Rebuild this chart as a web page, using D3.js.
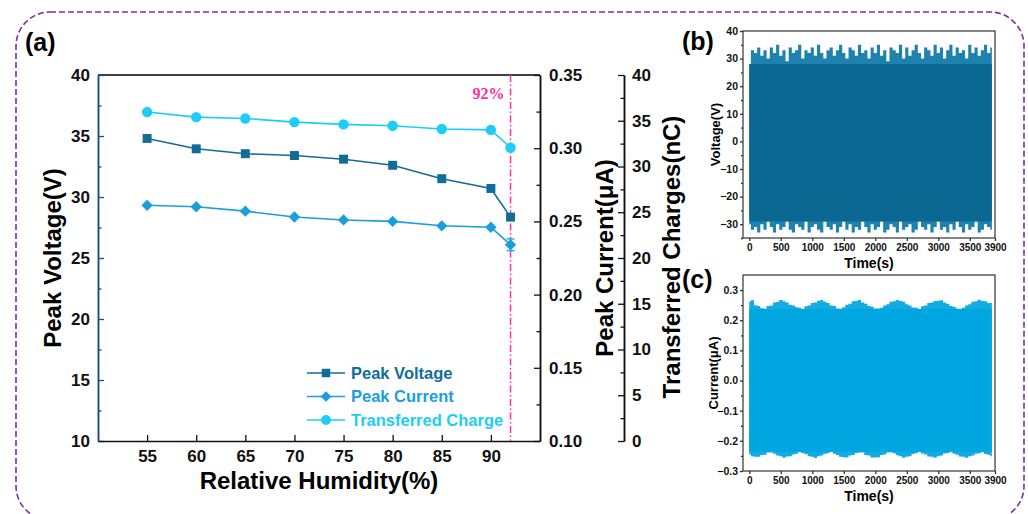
<!DOCTYPE html>
<html>
<head>
<meta charset="utf-8">
<script src="https://cdn.jsdelivr.net/npm/d3@7"></script>
<style>
  body { margin: 0; background: #fff; }
  svg { font-family: "Liberation Sans", Arial, sans-serif; font-weight: bold; }
</style>
</head>
<body>
<div id="chart"></div>
<script>
// ---- panel (a) data
var humidity = [55, 60, 65, 70, 75, 80, 85, 90, 92];
var peakVoltage = [34.8, 33.95, 33.55, 33.4, 33.1, 32.6, 31.5, 30.7, 28.35];
var peakCurrent = [0.261, 0.260, 0.257, 0.253, 0.251, 0.250, 0.247, 0.246, 0.234];
var currentErr = [0, 0, 0, 0, 0, 0, 0, 0, 0.004];
var transCharge = [35.95, 35.4, 35.25, 34.85, 34.6, 34.45, 34.1, 34.0, 32.05];
var humTicks = [55, 60, 65, 70, 75, 80, 85, 90];
var seriesNames = ["Peak Voltage", "Peak Current", "Transferred Charge"];

// ---- panel (b)/(c) envelopes, sampled every 50 s from 0 s
var sampleStep = 50;
var voltTop = [28,33,32,34,31,33,30,34,32,35,31,33,29,34,32,33,35,30,33,32,34,31,35,32,30,33,34,31,33,35,32,30,34,33,31,35,32,33,30,34,32,35,31,33,29,34,33,32,35,30,34,31,33,35,32,30,34,33,31,35,32,34,30,33,35,31,34,32,33,30,35,32,34,31,33,35,32,34];
var voltBot = [-30,-32,-31,-33,-30,-32,-29,-31,-33,-30,-32,-31,-29,-32,-33,-30,-31,-32,-29,-33,-31,-30,-32,-33,-29,-31,-32,-30,-33,-31,-29,-32,-30,-33,-31,-32,-29,-31,-33,-30,-32,-31,-29,-33,-32,-30,-31,-33,-29,-32,-31,-30,-33,-32,-29,-31,-32,-30,-33,-31,-29,-32,-31,-33,-30,-32,-29,-31,-33,-30,-32,-31,-29,-33,-32,-30,-31,-32];
var currTop = [0.262,0.266,0.250,0.247,0.240,0.238,0.247,0.249,0.259,0.261,0.267,0.263,0.259,0.251,0.249,0.243,0.241,0.237,0.246,0.249,0.257,0.259,0.265,0.267,0.261,0.257,0.249,0.247,0.239,0.238,0.243,0.251,0.255,0.263,0.264,0.267,0.259,0.255,0.247,0.245,0.239,0.239,0.241,0.249,0.253,0.261,0.263,0.267,0.264,0.261,0.253,0.249,0.242,0.241,0.237,0.246,0.249,0.257,0.259,0.264,0.265,0.266,0.259,0.255,0.247,0.245,0.239,0.237,0.241,0.249,0.253,0.261,0.263,0.268,0.264,0.263,0.257,0.257];
var currBot = [-0.245,-0.251,-0.253,-0.253,-0.247,-0.246,-0.239,-0.239,-0.243,-0.249,-0.251,-0.256,-0.252,-0.251,-0.245,-0.243,-0.237,-0.241,-0.244,-0.251,-0.253,-0.257,-0.251,-0.249,-0.243,-0.241,-0.236,-0.243,-0.247,-0.253,-0.254,-0.255,-0.249,-0.247,-0.240,-0.239,-0.239,-0.247,-0.249,-0.255,-0.255,-0.254,-0.247,-0.245,-0.239,-0.238,-0.241,-0.248,-0.251,-0.256,-0.253,-0.251,-0.244,-0.241,-0.236,-0.242,-0.245,-0.252,-0.253,-0.256,-0.251,-0.249,-0.242,-0.240,-0.236,-0.243,-0.246,-0.252,-0.253,-0.256,-0.251,-0.249,-0.243,-0.241,-0.238,-0.244,-0.246,-0.251];
var timeTicks = [0, 500, 1000, 1500, 2000, 2500, 3000, 3500, 3900];

var colV = "#106d98", colI = "#1a9fdc", colQ = "#1ccdf5";
var W = 1028, H = 514;

var svg = d3.select("#chart").append("svg").attr("width", W).attr("height", H);

// outer dashed rounded frame
svg.append("rect").attr("x", 16).attr("y", 12).attr("width", 1008).attr("height", 508)
  .attr("rx", 34).attr("fill", "none").attr("stroke", "#7a2fa8")
  .attr("stroke-width", 1.6).attr("stroke-dasharray", "6,3");

// ================= panel (a)
var x = d3.scaleLinear().domain([50, 95]).range([98, 540]);
var yV = d3.scaleLinear().domain([10, 40]).range([441, 75]);
var yI = d3.scaleLinear().domain([0.10, 0.35]).range([441, 75]);
var yQ = d3.scaleLinear().domain([0, 40]).range([441, 75]);

var g = svg.append("g");

// top border
g.append("line").attr("x1", 98).attr("x2", 540).attr("y1", 75).attr("y2", 75)
  .attr("stroke", "#000").attr("stroke-width", 1.3);

function styleAxis(sel, col, fs) {
  sel.selectAll("path").attr("stroke", col).attr("stroke-width", 1.5);
  sel.selectAll("line").attr("stroke", col).attr("stroke-width", 1.3);
  sel.selectAll("text").attr("fill", "#111").style("font-size", fs + "px")
    .style("font-family", "'Liberation Sans', Arial, sans-serif").style("font-weight", "bold");
}

// left axis (voltage)
var axL = g.append("g").attr("transform", "translate(98,0)")
  .call(d3.axisLeft(yV).tickValues(d3.range(10, 41, 5)).tickSize(-6).tickSizeOuter(0).tickPadding(8));
styleAxis(axL, "#1d4c80", 17);
var axLm = g.append("g").attr("transform", "translate(98,0)")
  .call(d3.axisLeft(yV).tickValues(d3.range(12.5, 40, 5)).tickSize(-3.5).tickFormat("").tickSizeOuter(0));
styleAxis(axLm, "#1d4c80", 17);

// bottom axis
var axB = g.append("g").attr("transform", "translate(0,441)")
  .call(d3.axisBottom(x).tickValues(humTicks).tickSize(-6).tickSizeOuter(0).tickPadding(9));
styleAxis(axB, "#111", 17);

// right axis (current)
var axR = g.append("g").attr("transform", "translate(540,0)")
  .call(d3.axisRight(yI).tickValues([0.10, 0.15, 0.20, 0.25, 0.30, 0.35]).tickFormat(d3.format(".2f"))
  .tickSize(-6).tickSizeOuter(0).tickPadding(9));
styleAxis(axR, "#111", 17);
var axRm = g.append("g").attr("transform", "translate(540,0)")
  .call(d3.axisRight(yI).tickValues([0.125, 0.175, 0.225, 0.275, 0.325]).tickSize(-3.5).tickFormat("").tickSizeOuter(0));
styleAxis(axRm, "#111", 17);

// right axis 2 (charge)
var axQ = g.append("g").attr("transform", "translate(624,0)")
  .call(d3.axisRight(yQ).tickValues(d3.range(0, 41, 5)).tickSize(-6).tickSizeOuter(0).tickPadding(8));
styleAxis(axQ, "#111", 17);
var axQm = g.append("g").attr("transform", "translate(624,0)")
  .call(d3.axisRight(yQ).tickValues(d3.range(2.5, 40, 5)).tickSize(-3.5).tickFormat("").tickSizeOuter(0));
styleAxis(axQm, "#111", 17);

// axis titles
g.append("text").attr("transform", "translate(61,258) rotate(-90)").attr("text-anchor", "middle")
  .style("font-size", "24px").text("Peak Voltage(V)");
g.append("text").attr("x", 319).attr("y", 489).attr("text-anchor", "middle")
  .style("font-size", "24px").text("Relative Humidity(%)");
g.append("text").attr("transform", "translate(613,258) rotate(-90)").attr("text-anchor", "middle")
  .style("font-size", "24px").text("Peak Current(\u03bcA)");
g.append("text").attr("transform", "translate(680,257) rotate(-90)").attr("text-anchor", "middle")
  .style("font-size", "24px").text("Transferred Charges(nC)");

// 92% marker line
g.append("line").attr("x1", x(92)).attr("x2", x(92)).attr("y1", 75).attr("y2", 441)
  .attr("stroke", "#ff3399").attr("stroke-width", 1.5).attr("stroke-dasharray", "7,2.5,1.5,2.5");
g.append("text").attr("x", x(92) - 6).attr("y", 99).attr("text-anchor", "end")
  .attr("fill", "#ff2f8e").style("font-family", "'Liberation Serif', 'Times New Roman', serif")
  .style("font-size", "16px").text("92%");

// series
var series = [
  {name: seriesNames[0], vals: peakVoltage, y: yV, col: colV, sym: d3.symbolSquare, size: 80, rot: 0},
  {name: seriesNames[1], vals: peakCurrent, y: yI, col: colI, sym: d3.symbolSquare, size: 64, rot: 45},
  {name: seriesNames[2], vals: transCharge, y: yQ, col: colQ, sym: d3.symbolCircle, size: 85, rot: 0}
];

series.forEach(function (s) {
  var line = d3.line().x((d, i) => x(humidity[i])).y(d => s.y(d));
  g.append("path").attr("d", line(s.vals)).attr("fill", "none")
    .attr("stroke", s.col).attr("stroke-width", 1.6);
  g.append("g").selectAll("path").data(s.vals).join("path")
    .attr("transform", (d, i) => "translate(" + x(humidity[i]) + "," + s.y(d) + ") rotate(" + s.rot + ")")
    .attr("d", d3.symbol().type(s.sym).size(s.size)).attr("fill", s.col);
});

// error bars for current
peakCurrent.forEach(function (d, i) {
  if (!currentErr[i]) return;
  var cx = x(humidity[i]);
  g.append("line").attr("x1", cx).attr("x2", cx)
    .attr("y1", yI(d - currentErr[i])).attr("y2", yI(d + currentErr[i])).attr("stroke", colI).attr("stroke-width", 1.3);
  [d - currentErr[i], d + currentErr[i]].forEach(function (v) {
    g.append("line").attr("x1", cx - 4).attr("x2", cx + 4).attr("y1", yI(v)).attr("y2", yI(v))
      .attr("stroke", colI).attr("stroke-width", 1.3);
  });
});

// legend
var leg = g.append("g").attr("transform", "translate(307,373)");
series.forEach(function (s, i) {
  var r = leg.append("g").attr("transform", "translate(0," + (i * 23.5) + ")");
  r.append("line").attr("x1", 0).attr("x2", 38).attr("stroke", s.col).attr("stroke-width", 1.6);
  r.append("path").attr("transform", "translate(19,0) rotate(" + s.rot + ")")
    .attr("d", d3.symbol().type(s.sym).size(s.size * 0.9)).attr("fill", s.col);
  r.append("text").attr("x", 44).attr("dy", "0.36em").attr("fill", s.col)
    .style("font-size", "16.5px").text(s.name);
});

// panel letters
svg.append("text").attr("x", 25).attr("y", 51).style("font-size", "25px").text("(a)");
svg.append("text").attr("x", 682).attr("y", 50).style("font-size", "25px").text("(b)");
svg.append("text").attr("x", 682).attr("y", 288).style("font-size", "25px").text("(c)");

// ================= panels (b) and (c)
function wavePanel(opts) {
  var px = d3.scaleLinear().domain([-100, 3900]).range([743, 995]);
  var py = d3.scaleLinear().domain(opts.domain).range([opts.bottom, opts.top]);
  var p = svg.append("g");
  var area = d3.area().curve(d3.curveStep).x((d, i) => px(i * sampleStep)).y0((d, i) => py(opts.bot[i])).y1(d => py(d));
  p.append("path").attr("d", area(opts.topVals)).attr("fill", opts.edgeCol);
  // dense core of the signal
  p.append("rect").attr("x", px(0)).attr("width", px((opts.topVals.length - 1) * sampleStep) - px(0))
    .attr("y", py(d3.min(opts.topVals))).attr("height", py(d3.max(opts.bot)) - py(d3.min(opts.topVals)))
    .attr("fill", opts.col);

  p.append("rect").attr("x", 743).attr("y", opts.top).attr("width", 995 - 743)
    .attr("height", opts.bottom - opts.top).attr("fill", "none").attr("stroke", "#333").attr("stroke-width", 1.2);

  var ax = p.append("g").attr("transform", "translate(743,0)")
    .call(d3.axisLeft(py).tickValues(opts.ticks).tickFormat(opts.fmt).tickSize(3).tickSizeOuter(0).tickPadding(2));
  styleAxis(ax, "#333", 10.5);
  var axm = p.append("g").attr("transform", "translate(743,0)")
    .call(d3.axisLeft(py).tickValues(opts.minor).tickFormat("").tickSize(2).tickSizeOuter(0));
  styleAxis(axm, "#333", 10.5);
  ax.select("path").remove(); axm.select("path").remove();

  var bx = p.append("g").attr("transform", "translate(0," + opts.bottom + ")")
    .call(d3.axisBottom(px).tickValues(timeTicks).tickFormat(d3.format("d")).tickSize(3).tickSizeOuter(0).tickPadding(3));
  styleAxis(bx, "#333", 10);
  bx.select("path").remove();

  p.append("text").attr("transform", "translate(" + opts.labX + "," + ((opts.top + opts.bottom) / 2) + ") rotate(-90)")
    .attr("text-anchor", "middle").style("font-size", "13px").text(opts.label);
  p.append("text").attr("x", 869).attr("y", opts.bottom + 30).attr("text-anchor", "middle")
    .style("font-size", "14px").text("Time(s)");
}

wavePanel({domain: [-35, 40], top: 31, bottom: 238, topVals: voltTop, bot: voltBot,
  col: "#0b6892", edgeCol: "#1d82ae", ticks: d3.range(-30, 41, 10), minor: d3.range(-35, 40, 10),
  fmt: d3.format("d"), label: "Voltage(V)", labX: 720});
wavePanel({domain: [-0.3, 0.35], top: 275, bottom: 471, topVals: currTop, bot: currBot,
  col: "#00a6df", edgeCol: "#12abe2", ticks: [-0.3, -0.2, -0.1, 0, 0.1, 0.2, 0.3], minor: [-0.25, -0.15, -0.05, 0.05, 0.15, 0.25],
  fmt: d3.format(".1f"), label: "Current(\u03bcA)", labX: 718});
</script>
</body>
</html>
